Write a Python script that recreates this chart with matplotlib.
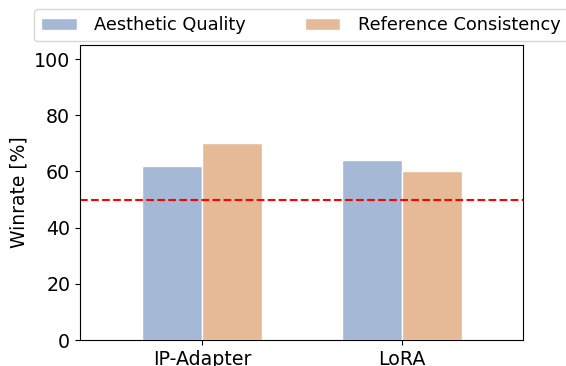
import matplotlib
matplotlib.use("Agg")
import matplotlib.pyplot as plt
import numpy as np

categories = ["IP-Adapter", "LoRA"]
series_names = ["Aesthetic Quality", "Reference Consistency"]
aesthetic = [62, 64]
reference = [70, 60]
baseline = 50
yticks = [0, 20, 40, 60, 80, 100]

colors = ["#a5b8d6", "#e6ba96"]

fig = plt.figure(figsize=(5.66, 3.66), dpi=100)
ax = fig.add_axes([80/566, 1 - 340/366, (523-80)/566, (340-45)/366])

x = np.arange(len(categories))
w = 0.3
ax.bar(x - w/2, aesthetic, w, color=colors[0], edgecolor="white", linewidth=1, label=series_names[0])
ax.bar(x + w/2, reference, w, color=colors[1], edgecolor="white", linewidth=1, label=series_names[1])
ax.axhline(baseline, color="red", linestyle="--", linewidth=1.5)

ax.set_xlim(-0.61, 1.605)
ax.set_ylim(0, 105)
ax.set_yticks(yticks)
ax.set_xticks(x)
ax.set_xticklabels(categories, fontsize=13.7)
ax.tick_params(axis="y", labelsize=13.7)
ax.set_ylabel("Winrate [%]", fontsize=13.5)

fig.legend(loc="upper left", bbox_to_anchor=(34/566, 1 - 9/366), ncol=2, fontsize=12.8,
           frameon=True, borderaxespad=0, handlelength=2, handletextpad=1.0,
           columnspacing=3.3)

fig.savefig("out.png", dpi=100)
